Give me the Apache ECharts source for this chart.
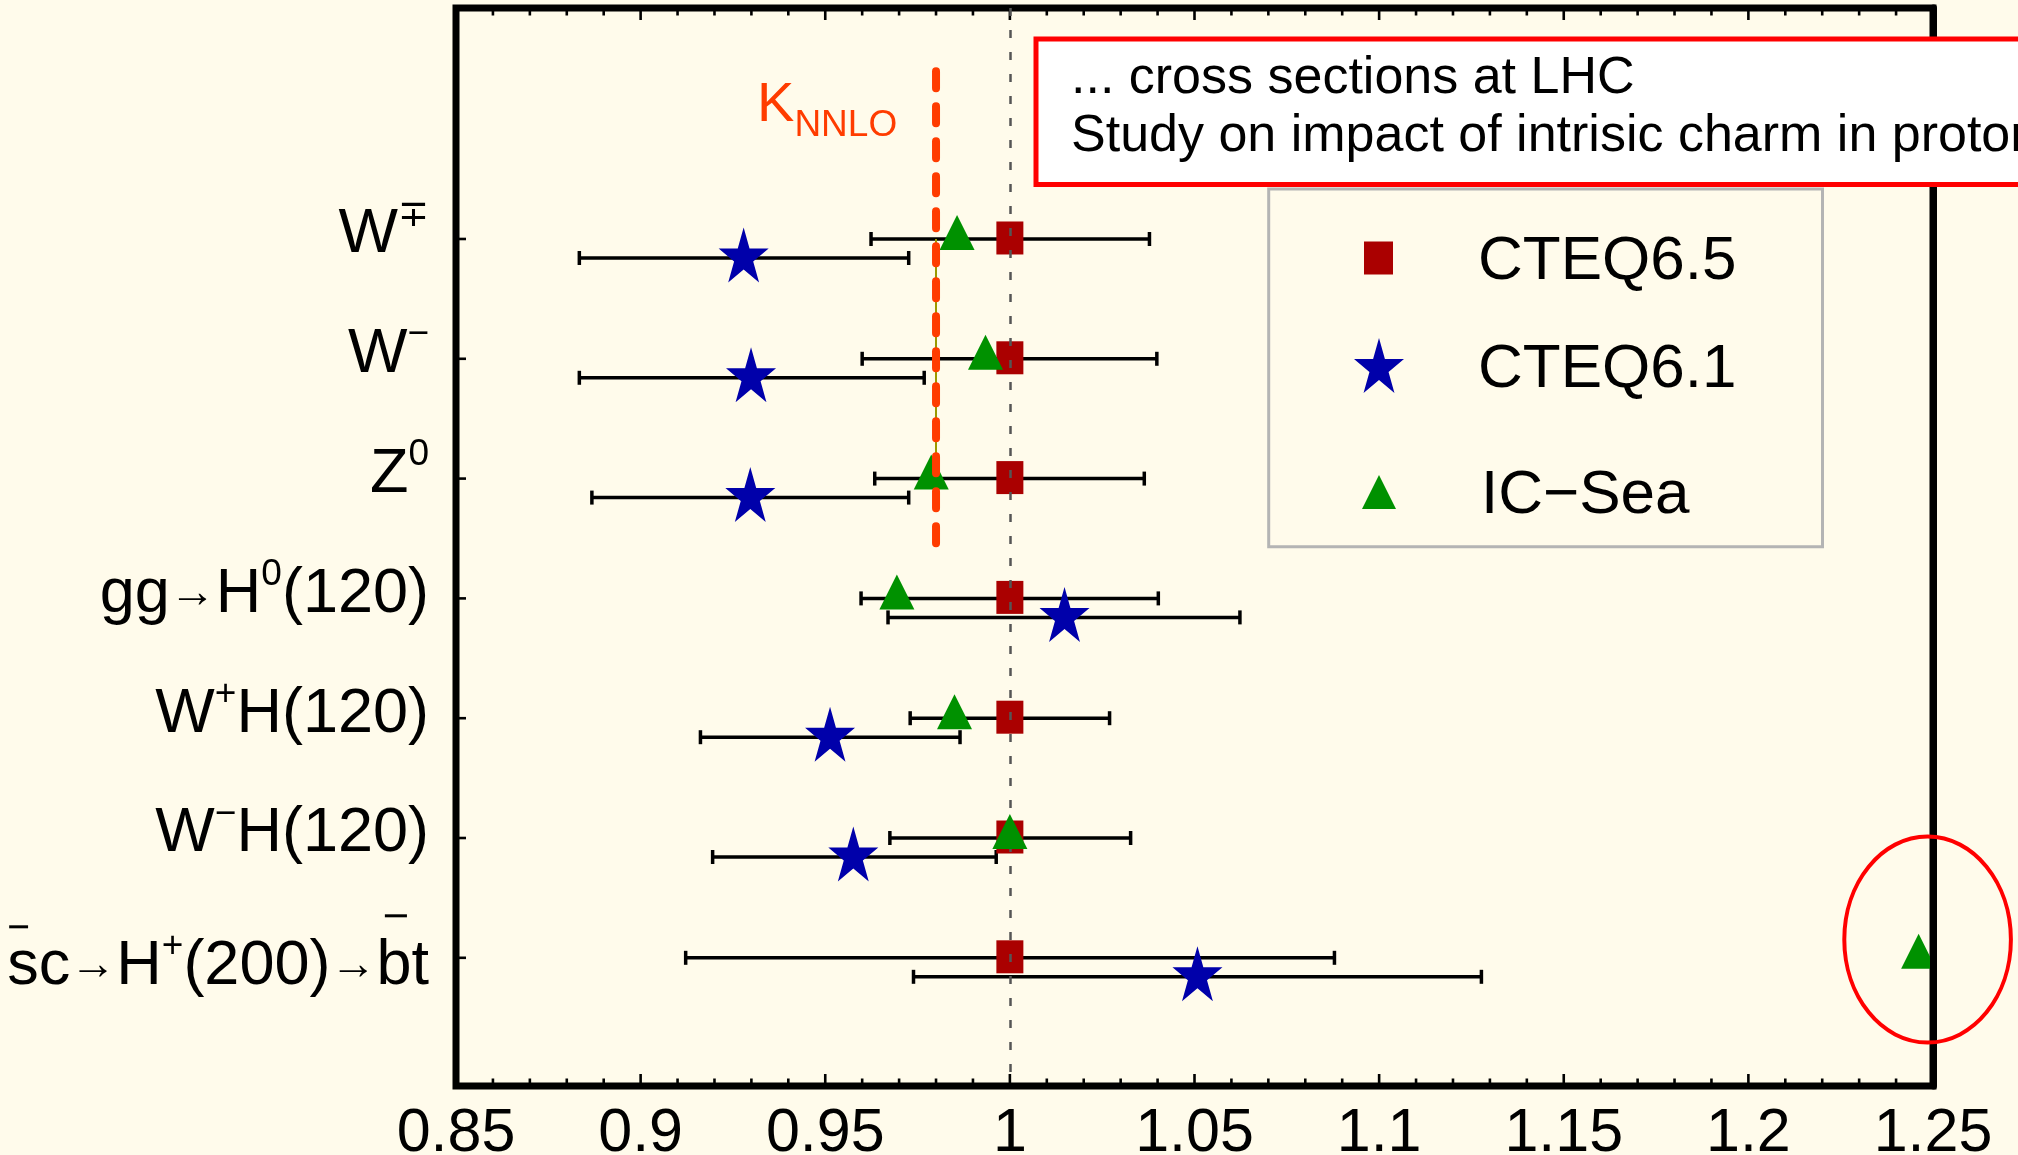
<!DOCTYPE html>
<html><head><meta charset="utf-8">
<script src="https://cdn.jsdelivr.net/npm/echarts@6/dist/echarts.min.js"></script>
<style>html,body{margin:0;padding:0;background:#fffbeb;}#c{width:2018px;height:1155px;}</style>
</head><body><div id="c"></div>
<script>
// ---------------- data ----------------
const categories = ['W∓', 'W−', 'Z0', 'gg→H0(120)', 'W+H(120)', 'W−H(120)', 's̄c→H+(200)→b̄t'];
const rows = [0, 1, 2, 3, 4, 5, 6];
const cteq65   = [1, 1, 1, 1, 1, 1, 1];
const cteq65Lo = [0.9624, 0.9600, 0.9634, 0.9597, 0.9730, 0.9675, 0.9122];
const cteq65Hi = [1.0378, 1.0398, 1.0364, 1.0402, 1.0270, 1.0327, 1.0879];
const cteq61   = [0.9279, 0.9299, 0.9297, 1.0148, 0.9513, 0.9576, 1.0508];
const cteq61Lo = [0.8834, 0.8834, 0.8868, 0.9670, 0.9162, 0.9195, 0.9739];
const cteq61Hi = [0.9726, 0.9768, 0.9726, 1.0623, 0.9865, 0.9963, 1.1277];
const icSea    = [0.9857, 0.9934, 0.9787, 0.9694, 0.9850, 1.0000, 1.2461];
const kNNLO = 0.98;
const kSpan = [-1.4, 2.6];
const oliveSpan = [0, 2];
const xTicks = [0.85, 0.9, 0.95, 1, 1.05, 1.1, 1.15, 1.2, 1.25];
const xTickLabels = ['0.85', '0.9', '0.95', '1', '1.05', '1.1', '1.15', '1.2', '1.25'];
const xMinorTicks = [0.86, 0.87, 0.88, 0.89, 0.91, 0.92, 0.93, 0.94, 0.96, 0.97, 0.98, 0.99,
  1.01, 1.02, 1.03, 1.04, 1.06, 1.07, 1.08, 1.09, 1.11, 1.12, 1.13, 1.14, 1.16, 1.17, 1.18, 1.19,
  1.21, 1.22, 1.23, 1.24];
const seriesNames = ['CTEQ6.5', 'CTEQ6.1', 'IC−Sea'];
const boxLines = ['... cross sections at LHC', 'Study on impact of intrisic charm in proton'];

// ---------------- styling ----------------
const FN = '"Liberation Sans", Arial, sans-serif';
const mctx = document.createElement('canvas').getContext('2d');
function tw(s, size) { mctx.font = size + 'px ' + FN; return mctx.measureText(s).width; }

const MAIN = 63, SUP = 37, ARR = 46;
// star symbol path
let sp = 'path://';
for (let k = 0; k < 10; k++) {
  const r = k % 2 === 0 ? 100 : 38.2;
  const a = k * Math.PI / 5;
  sp += (k === 0 ? 'M' : 'L') + (100 + r * Math.sin(a)).toFixed(2) + ',' + (100 - r * Math.cos(a)).toFixed(2) + ' ';
}
const STAR = sp + 'Z';

// label markup for the y axis (overbars of s and b drawn as rich-text rules)
const scW = tw('sc', MAIN) + tw('→', ARR) + tw('H', MAIN) + tw('+', SUP) + tw('(200)', MAIN) + tw('→', ARR) + tw('bt', MAIN);
const bW = tw('b', MAIN), tW = tw('t', MAIN), sW = tw('s', MAIN);
const sBarW = sW * 0.6, bBarW = bW * 0.63;
const tailW = tW + bW * 0.13;
const gapW = Math.max(10, scW - tailW - bBarW - sBarW - sW * 0.06);
const labelMarkup = [
  '{m|W}{sup|∓}',
  '{m|W}{sup|−}',
  '{m|Z}{sup|0}',
  '{m|gg}{ar|→}{m|H}{sup|0}{m|(120)}',
  '{m|W}{sup|+}{m|H(120)}',
  '{m|W}{sup|−}{m|H(120)}',
  '{bs| }{gap| }{bb| }{tail| }\n{m|sc}{ar|→}{m|H}{sup|+}{m|(200)}{ar|→}{m|bt}'
];

const chart = echarts.init(document.getElementById('c'));

function errRender(offsetPx) {
  return function (params, api) {
    const y = api.value(2);
    const p1 = api.coord([api.value(0), y]);
    const p2 = api.coord([api.value(1), y]);
    const yy = p1[1] + offsetPx, h = 7;
    const st = { stroke: '#000', lineWidth: 3.5 };
    return { type: 'group', children: [
      { type: 'line', shape: { x1: p1[0], y1: yy, x2: p2[0], y2: yy }, style: st },
      { type: 'line', shape: { x1: p1[0], y1: yy - h, x2: p1[0], y2: yy + h }, style: st },
      { type: 'line', shape: { x1: p2[0], y1: yy - h, x2: p2[0], y2: yy + h }, style: st }
    ] };
  };
}

// frame ticks (inward), positioned by the axes' own scales
const tickData = [].concat(
  xTicks.map(v => [v, 0, 0]),
  xMinorTicks.map(v => [v, 0, 1]),
  rows.map(r => [0.85, r, 2])
);
function tickRender(params, api) {
  const cs = params.coordSys;
  const kind = api.value(2);
  const p = api.coord([api.value(0), api.value(1)]);
  const st = { stroke: '#000', lineWidth: 2.6 };
  if (kind === 2) {
    return { type: 'line', shape: { x1: cs.x, y1: p[1], x2: cs.x + 10, y2: p[1] }, style: st };
  }
  const len = kind === 0 ? 12 : 7.5;
  const top = cs.y, bot = cs.y + cs.height;
  return { type: 'group', children: [
    { type: 'line', shape: { x1: p[0], y1: top, x2: p[0], y2: top + len }, style: st },
    { type: 'line', shape: { x1: p[0], y1: bot, x2: p[0], y2: bot - len }, style: st }
  ] };
}

function xAxisBase() {
  return {
    type: 'value', min: 0.85, max: 1.25, interval: 0.05,
    axisLine: { show: false, onZero: false },
    axisTick: { show: false }, minorTick: { show: false },
    splitLine: { show: false }
  };
}

function mkLegend(name, icon, left, top, w, h, textLeft) {
  return {
    data: [{ name: name, icon: icon }], left: left, top: top, orient: 'vertical',
    itemWidth: w, itemHeight: h, padding: 0, itemGap: 0, selectedMode: false, symbolKeepAspect: false,
    formatter: n => '{p| }{t|' + n + '}',
    textStyle: { rich: {
      p: { width: textLeft - left - w - 5 },
      t: { fontSize: 62, fontFamily: FN, color: '#000', padding: [8, 0, 0, 0] }
    } }
  };
}

const yMin = -1.928, yMax = 7.07;

const option = {
  backgroundColor: '#fffbeb',
  animation: false,
  grid: { left: 456, right: 85, top: 8, bottom: 69, containLabel: false, outerBoundsMode: 'none',
    show: true, borderColor: '#000', borderWidth: 7, backgroundColor: 'transparent' },
  xAxis: [
    Object.assign(xAxisBase(), { position: 'bottom',
      axisLabel: { show: true, margin: 18, fontSize: 61, fontFamily: FN, color: '#000',
        formatter: v => { const i = xTicks.findIndex(t => Math.abs(t - v) < 1e-6); return i >= 0 ? xTickLabels[i] : ''; } } }),
    Object.assign(xAxisBase(), { position: 'top', axisLabel: { show: false } })
  ],
  yAxis: [
    { type: 'value', inverse: true, min: yMin, max: yMax, position: 'left',
      axisLine: { show: false, onZero: false }, splitLine: { show: false },
      axisTick: { show: false },
      axisLabel: { show: true, customValues: rows, margin: 27, padding: [0, 0, 8, 0],
        formatter: v => labelMarkup[Math.round(v)],
        rich: {
          m: { fontSize: MAIN, fontFamily: FN, color: '#000', lineHeight: 76, align: 'right' },
          ar: { fontSize: ARR, fontFamily: FN, color: '#000', lineHeight: 76, align: 'right' },
          sup: { fontSize: SUP, fontFamily: FN, color: '#000', lineHeight: SUP, verticalAlign: 'top', align: 'right' },
          bs: { width: sBarW, height: 3, backgroundColor: '#000', lineHeight: 25, verticalAlign: 'bottom', align: 'right', fontSize: 8 },
          gap: { width: gapW, lineHeight: 25, align: 'right', fontSize: 8 },
          bb: { width: bBarW, height: 3, backgroundColor: '#000', lineHeight: 25, verticalAlign: 'middle', align: 'right', fontSize: 8 },
          tail: { width: tailW, lineHeight: 25, align: 'right', fontSize: 8 }
        } } },
    { type: 'value', inverse: true, min: yMin, max: yMax, position: 'right', z: 10,
      axisLine: { show: true, onZero: false, lineStyle: { color: '#000', width: 7 } },
      axisTick: { show: false }, axisLabel: { show: false }, splitLine: { show: false } }
  ],
  legend: [
    mkLegend(seriesNames[0], 'rect', 1364, 231, 29, 33, 1478),
    mkLegend(seriesNames[1], STAR, 1354, 338, 50, 55, 1478),
    mkLegend(seriesNames[2], 'triangle', 1362, 465, 34, 34, 1481)
  ],
  series: [
    { type: 'custom', name: 'ticks', z: 1, silent: true, clip: false, renderItem: tickRender,
      encode: { x: 0, y: 1 }, data: tickData },
    { type: 'custom', name: 'err65', z: 2, renderItem: errRender(0),
      encode: { x: [0, 1], y: 2 }, data: rows.map(i => [cteq65Lo[i], cteq65Hi[i], i]),
      markLine: { silent: true, symbol: 'none', label: { show: false },
        lineStyle: { color: '#555', width: 2.5, type: [8, 14] }, data: [{ xAxis: 1 }] } },
    { type: 'custom', name: 'err61', z: 2, renderItem: errRender(19),
      encode: { x: [0, 1], y: 2 }, data: rows.map(i => [cteq61Lo[i], cteq61Hi[i], i]) },
    { type: 'line', name: 'olive', z: 2, symbol: 'none', lineStyle: { color: '#9a9a00', width: 2 },
      data: oliveSpan.map(v => [kNNLO, v]) },
    { type: 'scatter', name: seriesNames[0], z: 3, symbol: 'rect', symbolSize: [27, 33], symbolOffset: [0, -1],
      itemStyle: { color: '#aa0000', opacity: 1 }, data: rows.map(i => [cteq65[i], i]) },
    { type: 'scatter', name: seriesNames[1], z: 4, symbol: STAR, symbolSize: [50, 55], symbolOffset: [0, 16],
      itemStyle: { color: '#0000aa', opacity: 1 }, data: rows.map(i => [cteq61[i], i]) },
    { type: 'scatter', name: seriesNames[2], z: 5, symbol: 'triangle', symbolSize: [35, 35], symbolOffset: [0, -6.5],
      itemStyle: { color: '#009100', opacity: 1 }, data: rows.map(i => [icSea[i], i]) },
    { type: 'line', name: 'KNNLO', z: 6, symbol: 'none',
      lineStyle: { color: '#ff3c00', width: 8, type: [17, 18], cap: 'round' },
      data: kSpan.map(v => [kNNLO, v]) }
  ]
};
chart.setOption(option);

// annotations anchored on data coordinates
const kPix = chart.convertToPixel({ gridIndex: 0 }, [kNNLO, kSpan[0]]);
const tPix = chart.convertToPixel({ gridIndex: 0 }, [icSea[6], 6]);
chart.setOption({
  graphic: [
    { type: 'rect', z: 1, shape: { x: 1268.7, y: 189, width: 553.8, height: 357.7 }, style: { fill: 'none', stroke: '#b4b4b4', lineWidth: 3 } },
    { type: 'rect', z: 100, shape: { x: 1036, y: 39, width: 1100, height: 145.5 }, style: { fill: '#ffffff', stroke: '#ff0000', lineWidth: 5 } },
    { type: 'text', z: 101, style: { x: 1071, y: 79, text: boxLines[0], font: '52px ' + FN, fill: '#000', verticalAlign: 'middle' } },
    { type: 'text', z: 101, style: { x: 1071, y: 137, text: boxLines[1], font: '52px ' + FN, fill: '#000', verticalAlign: 'middle' } },
    { type: 'text', z: 101, style: { x: kPix[0] - 179, y: 78, verticalAlign: 'top', text: '{k|K}{n|NNLO}',
        rich: { k: { fontSize: 56, fontFamily: FN, fill: '#ff3c00', lineHeight: 66, verticalAlign: 'top' },
                n: { fontSize: 37, fontFamily: FN, fill: '#ff3c00', lineHeight: 37, verticalAlign: 'bottom' } } } },
    { type: 'ellipse', z: 101, shape: { cx: tPix[0] + 9, cy: tPix[1] - 18.3, rx: 83.3, ry: 103 }, style: { fill: 'none', stroke: '#ff0000', lineWidth: 4 } }
  ]
});
</script></body></html>
